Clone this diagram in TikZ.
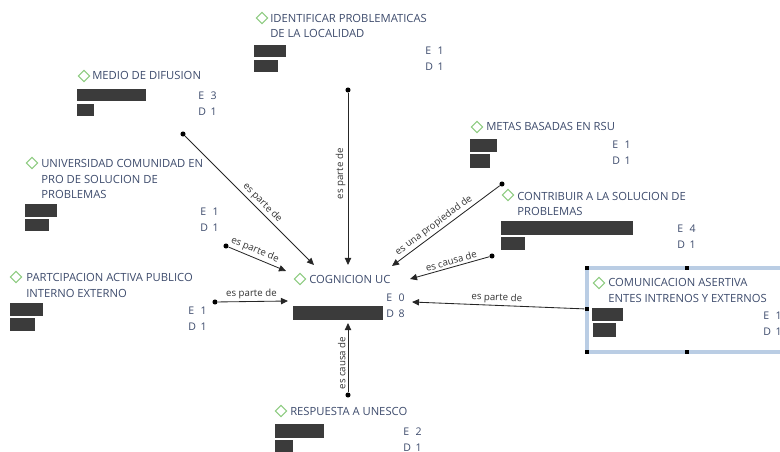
\documentclass[tikz,border=0pt]{standalone}
\usepackage{fontspec}
\setmainfont{Open Sans}
\usetikzlibrary{arrows.meta,positioning,shapes.geometric}
\definecolor{conceptblue}{HTML}{3D4B6C}
\definecolor{bargray}{HTML}{3B3B3B}
\definecolor{gemgreen}{HTML}{8DCB80}
\definecolor{selblue}{HTML}{BACDE4}
\newcommand{\edpair}[2]{\makebox[8.8pt][l]{E}#1\\\makebox[8.8pt][l]{D}#2}

\begin{document}
\begin{tikzpicture}[
      x=0.025cm, y=-0.025cm,
      concept/.style = {anchor=base west, inner sep=0pt, align=left, text=conceptblue, font=\fontsize{8}{11.3}\selectfont},
      gem/.style = {diamond, draw=gemgreen, line width=0.75pt, inner sep=0pt, minimum width=8.3pt, minimum height=8.3pt},
      bar/.style = {fill=bargray},
      edstats/.style = {anchor=base west, inner sep=0pt, align=left, text=conceptblue, font=\fontsize{7.5}{11.3}\selectfont},
      link/.style = {-{Triangle[length=5pt,width=4.5pt]}, line width=0.6pt, black!85},
      tail/.style = {circle, fill=black, inner sep=0pt, minimum size=3.6pt},
      handle/.style = {rectangle, fill=black, inner sep=0pt, minimum size=3.4pt},
      rel/.style = {font=\fontsize{6.9}{8}\selectfont, text=black!80, inner sep=1.5pt}
    ]
    \useasboundingbox (0,0) rectangle (780,452);

    % selected concept frame
    \draw[selblue, line width=2.5pt] (587,268) rectangle (786,352);

    % concepts (base = last line)
    \node[gem] (idp-g) at (262,18) {};
    \node[concept] (idp) at (270,38) {IDENTIFICAR PROBLEMATICAS\\DE LA LOCALIDAD};
    \fill[bar] (254,45) rectangle (286,57);
    \fill[bar] (254,60) rectangle (278,72);
    \node[edstats] (idp-s) at (425,70.5) {\edpair{1}{1}};

    \node[gem] (mdf-g) at (84,76) {};
    \node[concept] (mdf) at (92,80) {MEDIO DE DIFUSION};
    \fill[bar] (77,89) rectangle (146,101);
    \fill[bar] (77,104) rectangle (94,116);
    \node[edstats] (mdf-s) at (198,115.5) {\edpair{3}{1}};

    \node[gem] (ucs-g) at (32,163) {};
    \node[concept] (ucs) at (41,199) {UNIVERSIDAD COMUNIDAD EN\\PRO DE SOLUCION DE\\PROBLEMAS};
    \fill[bar] (25,204) rectangle (57,217);
    \fill[bar] (25,219) rectangle (49,231);
    \node[edstats] (ucs-s) at (200,231.5) {\edpair{1}{1}};

    \node[gem] (pai-g) at (16,277) {};
    \node[concept] (pai) at (26,297) {PARTCIPACION ACTIVA PUBLICO\\INTERNO EXTERNO};
    \fill[bar] (10,303) rectangle (43,316);
    \fill[bar] (10,318) rectangle (35,331);
    \node[edstats] (pai-s) at (188,330.5) {\edpair{1}{1}};

    \node[gem] (cog-g) at (300,279) {};
    \node[concept] (cog) at (309,283) {COGNICION UC};
    \fill[bar] (293,306) rectangle (383,320);
    \node[edstats] (cog-s) at (386,317.5) {\edpair{0}{8}};

    \node[gem] (mrs-g) at (477,127) {};
    \node[concept] (mrs) at (486,131) {METAS BASADAS EN RSU};
    \fill[bar] (470,139) rectangle (497,152);
    \fill[bar] (470,154) rectangle (490,168);
    \node[edstats] (mrs-s) at (612,164.5) {\edpair{1}{1}};

    \node[gem] (cps-g) at (508,195) {};
    \node[concept] (cps) at (517,216) {CONTRIBUIR A LA SOLUCION DE\\PROBLEMAS};
    \fill[bar] (501,221) rectangle (633,235);
    \fill[bar] (501,237) rectangle (525,250);
    \node[edstats] (cps-s) at (677,248.5) {\edpair{4}{1}};

    \node[gem] (cae-g) at (599,283) {};
    \node[concept] (cae) at (608,302) {COMUNICACION ASERTIVA\\ENTES INTRENOS Y EXTERNOS};
    \fill[bar] (592,308) rectangle (623,321);
    \fill[bar] (593,323) rectangle (616,337);
    \node[edstats] (cae-s) at (763,335.5) {\edpair{1}{1}};

    \node[gem] (rau-g) at (281,411) {};
    \node[concept] (rau) at (290,415) {RESPUESTA A UNESCO};
    \fill[bar] (275,424) rectangle (324,438);
    \fill[bar] (275,440) rectangle (293,452);
    \node[edstats] (rau-s) at (403,451.5) {\edpair{2}{1}};

    % selection handles
    \node[handle] (h1) at (587,268) {};
    \node[handle] (h2) at (687,268) {};
    \node[handle] (h3) at (587,352) {};
    \node[handle] (h4) at (687,352) {};
    \node[handle] (h5) at (587,309) {};

    % link tails and ends
    \node[tail] (idp-t) at (348,90) {};
    \node[tail] (mdf-t) at (183,134) {};
    \node[tail] (ucs-t) at (226,246) {};
    \node[tail] (pai-t) at (215,302) {};
    \node[tail] (mrs-t) at (502,184) {};
    \node[tail] (cps-t) at (492,256) {};
    \node[tail] (rau-t) at (348,395) {};
    \coordinate (cog-n)  at (348,265);
    \coordinate (cog-nw) at (314,265);
    \coordinate (cog-w1) at (286,271);
    \coordinate (cog-w2) at (288,301);
    \coordinate (cog-ne) at (392,266);
    \coordinate (cog-e1) at (410,279);
    \coordinate (cog-e2) at (412,302);
    \coordinate (cog-s)  at (348,323);

    % links
    \draw[link] (idp-t) -- node[rel, rotate=90, above, pos=0.47] {es parte de} (cog-n);
    \draw[link] (mdf-t) -- node[rel, sloped, above, pos=0.56] {es parte de} (cog-nw);
    \draw[link] (ucs-t) -- node[rel, sloped, above, pos=0.41] {es parte de} (cog-w1);
    \draw[link] (pai-t) -- node[rel, sloped, above, pos=0.48] {es parte de} (cog-w2);
    \draw[link] (mrs-t) -- node[rel, sloped, above, pos=0.57] {es una propiedad de} (cog-ne);
    \draw[link] (cps-t) -- node[rel, sloped, above, pos=0.46] {es causa de} (cog-e1);
    \draw[link] (h5) -- node[rel, sloped, above, pos=0.51] {es parte de} (cog-e2);
    \draw[link] (rau-t) -- node[rel, rotate=90, above, pos=0.42] {es causa de} (cog-s);
\end{tikzpicture}
\end{document}
